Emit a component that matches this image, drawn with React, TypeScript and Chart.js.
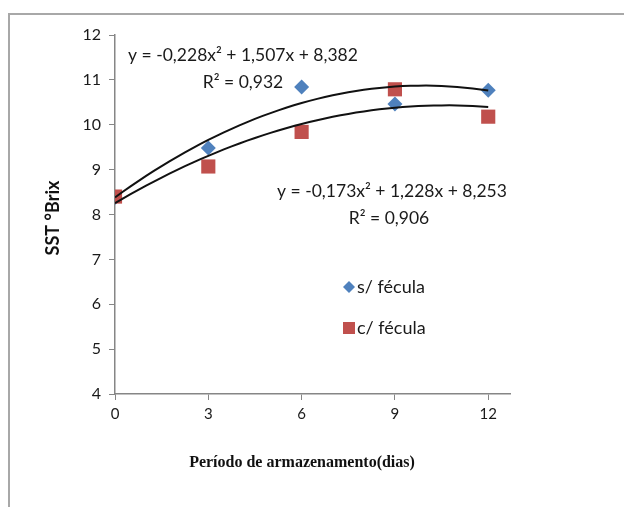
import { useEffect, useRef } from "react";
import { Chart, registerables } from "chart.js";

Chart.register(...registerables);

// ---- data ----
const days = [0, 3, 6, 9, 12];
const semFecula = [8.38, 9.48, 10.84, 10.46, 10.77];
const comFecula = [8.4, 9.07, 9.84, 10.79, 10.18];
const coefSem = [-0.228, 1.507, 8.382]; // x = days / 3
const coefCom = [-0.173, 1.228, 8.253];
const xTicks = [0, 3, 6, 9, 12];
const seriesNames = ["s/ fécula", "c/ fécula"];
const eqSem = ["y = -0,228x² + 1,507x + 8,382", "R² = 0,932"];
const eqCom = ["y = -0,173x² + 1,228x + 8,253", "R² = 0,906"];
const xTitle = "Período de armazenamento(dias)";
const yTitle = "SST °Brix";

const BLUE = "#4F81BD";
const RED = "#C0504D";
const TXT = "#1a1a1a";
const CAL = "Lato, 'Open Sans', sans-serif";

function trend(coef: number[]) {
  const pts: { x: number; y: number }[] = [];
  for (let i = 0; i <= 48; i++) {
    const d = i / 4;
    const t = d / 3;
    pts.push({ x: d, y: coef[0] * t * t + coef[1] * t + coef[2] });
  }
  return pts;
}

const decor = {
  id: "decor",
  afterDraw(chart: any) {
    const ctx = chart.ctx as CanvasRenderingContext2D;
    ctx.save();
    // outer frame
    ctx.strokeStyle = "#a8a8a8";
    ctx.lineWidth = 2;
    ctx.beginPath();
    ctx.moveTo(9, 507);
    ctx.lineTo(9, 14);
    ctx.lineTo(624, 14);
    ctx.stroke();

    ctx.fillStyle = TXT;
    ctx.textBaseline = "middle";
    ctx.textAlign = "center";
    ctx.font = `17.5px ${CAL}`;
    ctx.fillText(eqSem[0], 243, 55);
    ctx.fillText(eqSem[1], 243, 82);
    ctx.fillText(eqCom[0], 392, 191);
    ctx.fillText(eqCom[1], 389, 218);

    // legend
    ctx.fillStyle = BLUE;
    ctx.beginPath();
    ctx.moveTo(349, 281);
    ctx.lineTo(355, 287);
    ctx.lineTo(349, 293);
    ctx.lineTo(343, 287);
    ctx.closePath();
    ctx.fill();
    ctx.fillStyle = RED;
    ctx.fillRect(343, 322, 12, 12);
    ctx.fillStyle = TXT;
    ctx.textAlign = "left";
    ctx.font = `18px ${CAL}`;
    ctx.fillText(seriesNames[0], 357, 287);
    ctx.fillText(seriesNames[1], 357, 328);

    // axis titles
    ctx.textAlign = "center";
    ctx.font = "bold 16px 'Liberation Serif', serif";
    ctx.fillStyle = "#111";
    ctx.fillText(xTitle, 302, 463);
    ctx.translate(53, 218);
    ctx.rotate(-Math.PI / 2);
    ctx.font = `bold 18px ${CAL}`;
    ctx.fillText(yTitle, 0, 0);
    ctx.restore();
  },
};

export default function App() {
  const ref = useRef<HTMLCanvasElement | null>(null);
  useEffect(() => {
    if (!ref.current) return;
    const chart = new Chart(ref.current, {
      type: "scatter",
      data: {
        datasets: [
          {
            label: "trend s",
            data: trend(coefSem),
            showLine: true,
            borderColor: "#111111",
            borderWidth: 2,
            pointRadius: 0,
          },
          {
            label: "trend c",
            data: trend(coefCom),
            showLine: true,
            borderColor: "#111111",
            borderWidth: 2,
            pointRadius: 0,
          },
          {
            label: seriesNames[1],
            data: days.map((d, i) => ({ x: d, y: comFecula[i] })),
            pointStyle: "rect",
            pointRadius: 10,
            backgroundColor: RED,
            borderColor: RED,
            borderWidth: 0,
          },
          {
            label: seriesNames[0],
            data: days.map((d, i) => ({ x: d, y: semFecula[i] })),
            pointStyle: "rectRot",
            pointRadius: 7.5,
            backgroundColor: BLUE,
            borderColor: BLUE,
            borderWidth: 0,
          },
        ],
      },
      options: {
        responsive: false,
        animation: false,
        devicePixelRatio: 1,
        layout: { padding: { left: 0, top: 35, right: 114, bottom: 0 } },
        plugins: { legend: { display: false }, tooltip: { enabled: false } },
        scales: {
          x: {
            type: "linear",
            min: 0,
            max: 12.7,
            afterBuildTicks: (s: any) => {
              s.ticks = xTicks.map((v) => ({ value: v }));
            },
            afterFit: (s: any) => {
              s.height = 113;
            },
            grid: { drawOnChartArea: false, drawTicks: true, tickLength: 6, color: "#868686" },
            border: { color: "#868686", width: 1.5 },
            ticks: { padding: 5, color: TXT, font: { family: CAL, size: 15 }, maxRotation: 0 },
          },
          y: {
            min: 4,
            max: 12,
            afterFit: (s: any) => {
              s.width = 115;
            },
            grid: { drawOnChartArea: false, drawTicks: true, tickLength: 6, color: "#868686" },
            border: { color: "#868686", width: 1.5 },
            ticks: { stepSize: 1, padding: 8, color: TXT, font: { family: CAL, size: 16 } },
          },
        },
      },
      plugins: [decor],
    } as any);
    return () => chart.destroy();
  }, []);
  return (
    <div style={{ position: "fixed", left: 0, top: 0, width: 624, height: 507, background: "#fff" }}>
      <canvas ref={ref} width={624} height={507} style={{ display: "block" }} />
    </div>
  );
}
